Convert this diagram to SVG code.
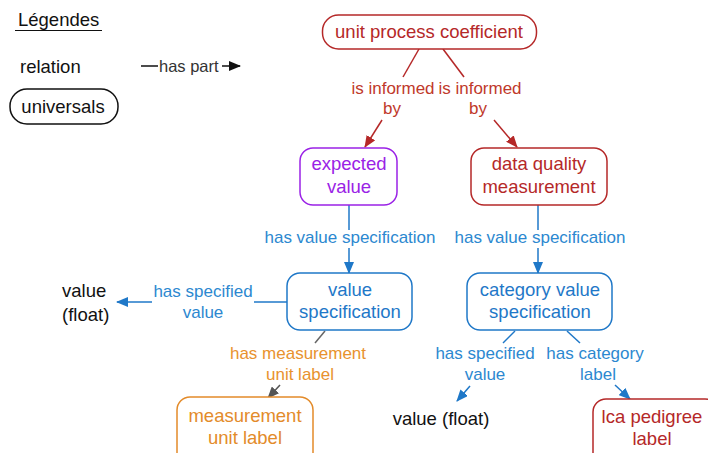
<svg xmlns="http://www.w3.org/2000/svg" width="708" height="453" viewBox="0 0 708 453">
<style>
text{font-family:"Liberation Sans",Arial,sans-serif}
.n{font-size:18.5px;text-anchor:middle}
.l{font-size:17px;text-anchor:middle}
.box{fill:#fff;stroke-width:1.5}
.red{stroke:#b52828}.redt{fill:#b52828}
.pur{stroke:#9a22e6}.purt{fill:#9a22e6}
.blu{stroke:#1f78c8}.blut{fill:#1f78c8}
.org{stroke:#e38b2a}.orgt{fill:#e38b2a}
.redl{fill:#c0392b}.blul{fill:#2c88d0}.orgl{fill:#e8922e}
.e{fill:none;stroke-width:1.5}
</style>
<defs>
<marker id="ar" markerWidth="12" markerHeight="10" refX="11" refY="5" orient="auto" markerUnits="userSpaceOnUse"><path d="M0,0L12,5L0,10z" fill="#b52828"/></marker>
<marker id="ab" markerWidth="12" markerHeight="10" refX="11" refY="5" orient="auto" markerUnits="userSpaceOnUse"><path d="M0,0L12,5L0,10z" fill="#1f78c8"/></marker>
<marker id="ag" markerWidth="12" markerHeight="10" refX="11" refY="5" orient="auto" markerUnits="userSpaceOnUse"><path d="M0,0L12,5L0,10z" fill="#555"/></marker>
<marker id="ak" markerWidth="12" markerHeight="10" refX="11" refY="5" orient="auto" markerUnits="userSpaceOnUse"><path d="M0,0L12,5L0,10z" fill="#111"/></marker>
</defs>

<g id="legend">
<text x="18" y="26" font-size="18.5" fill="#111">Légendes</text>
<line x1="15" y1="30.5" x2="102" y2="30.5" stroke="#111" stroke-width="1.2"/>
<text x="20" y="73" font-size="18.5" fill="#111">relation</text>
<line x1="141" y1="66" x2="158" y2="66" stroke="#111" stroke-width="1.5"/>
<text x="159" y="72" font-size="16.5" fill="#333">has part</text>
<line x1="222" y1="66" x2="240" y2="66" stroke="#111" stroke-width="1.5" marker-end="url(#ak)"/>
<rect x="10" y="89" width="108" height="35" rx="17" fill="#fff" stroke="#111" stroke-width="1.5"/>
<text x="63" y="113" class="n" fill="#111">universals</text>
</g>

<g id="connectors">
<line class="e red" x1="419" y1="49" x2="403" y2="77"/>
<line class="e red" x1="382" y1="120" x2="365" y2="147" marker-end="url(#ar)"/>
<text class="l redl" x="393" y="94">is informed</text>
<text class="l redl" x="392" y="114">by</text>
<line class="e red" x1="443" y1="49" x2="464" y2="77"/>
<line class="e red" x1="494" y1="120" x2="517" y2="147" marker-end="url(#ar)"/>
<text class="l redl" x="480" y="94">is informed</text>
<text class="l redl" x="478" y="114">by</text>

<line class="e blu" x1="349" y1="205" x2="349" y2="230"/>
<line class="e blu" x1="349" y1="248" x2="349" y2="273" marker-end="url(#ab)"/>
<text class="l blul" x="350" y="243">has value specification</text>
<line class="e blu" x1="538" y1="205" x2="538" y2="230"/>
<line class="e blu" x1="538" y1="248" x2="538" y2="273" marker-end="url(#ab)"/>
<text class="l blul" x="540" y="243">has value specification</text>

<line class="e blu" x1="287" y1="302" x2="254" y2="302"/>
<line class="e blu" x1="152" y1="302" x2="117" y2="302" marker-end="url(#ab)"/>
<text class="l blul" x="203" y="297">has specified</text>
<text class="l blul" x="203" y="318">value</text>

<line class="e" stroke="#666" x1="325" y1="331" x2="315" y2="343"/>
<line class="e" stroke="#555" x1="280" y1="385" x2="268" y2="398" marker-end="url(#ag)"/>
<text class="l orgl" x="298" y="359">has measurement</text>
<text class="l orgl" x="300" y="380">unit label</text>

<line class="e blu" x1="515" y1="331" x2="503" y2="343"/>
<line class="e blu" x1="470" y1="386" x2="457" y2="401" marker-end="url(#ab)"/>
<text class="l blul" x="485" y="359">has specified</text>
<text class="l blul" x="485" y="380">value</text>

<line class="e blu" x1="567" y1="331" x2="580" y2="343"/>
<line class="e blu" x1="615" y1="385" x2="630" y2="399" marker-end="url(#ab)"/>
<text class="l blul" x="595" y="359">has category</text>
<text class="l blul" x="598" y="380">label</text>
</g>

<g id="unit-process-coefficient">
<rect class="box red" x="322.5" y="15" width="214" height="34" rx="16"/>
<text class="n redt" x="429" y="38">unit process coefficient</text>
</g>
<g id="expected-value">
<rect class="box pur" x="300" y="148" width="97" height="57" rx="13"/>
<text class="n purt" x="349" y="170">expected</text>
<text class="n purt" x="349" y="193">value</text>
</g>
<g id="data-quality-measurement">
<rect class="box red" x="471" y="148" width="136" height="57" rx="13"/>
<text class="n redt" x="539" y="170">data quality</text>
<text class="n redt" x="539" y="193">measurement</text>
</g>
<g id="value-specification">
<rect class="box blu" x="287" y="273" width="125" height="57" rx="13"/>
<text class="n blut" x="350" y="296">value</text>
<text class="n blut" x="350" y="318">specification</text>
</g>
<g id="category-value-specification">
<rect class="box blu" x="467" y="273" width="145" height="57" rx="13"/>
<text class="n blut" x="540" y="296">category value</text>
<text class="n blut" x="540" y="318">specification</text>
</g>
<g id="value-float-1">
<text x="62" y="297" font-size="18.5" fill="#111">value</text>
<text x="62" y="321" font-size="18.5" fill="#111">(float)</text>
</g>
<g id="measurement-unit-label">
<rect class="box org" x="177" y="397" width="136" height="70" rx="13"/>
<text class="n orgt" x="245" y="422">measurement</text>
<text class="n orgt" x="245" y="444">unit label</text>
</g>
<g id="value-float-2">
<text class="n" x="441" y="425" fill="#111">value (float)</text>
</g>
<g id="lca-pedigree-label">
<rect class="box red" x="593" y="399" width="125" height="70" rx="13"/>
<text class="n redt" x="652" y="423">lca pedigree</text>
<text class="n redt" x="652" y="445">label</text>
</g>
</svg>
